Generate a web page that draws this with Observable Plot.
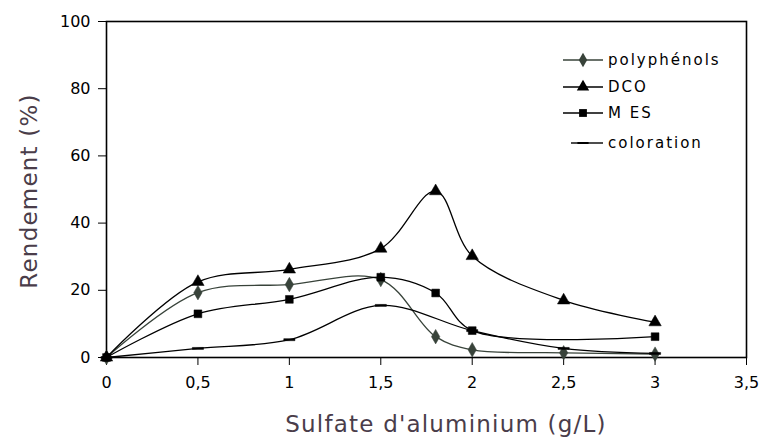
<!DOCTYPE html>
<html><head><meta charset="utf-8">
<script src="https://cdn.jsdelivr.net/npm/d3@7"></script>
<script src="https://cdn.jsdelivr.net/npm/@observablehq/plot@0.6"></script>
<style>
body{margin:0;background:#fff;}
#chart{width:760px;height:445px;}
</style>
</head><body><div id="chart"></div>
<script>
const doses = [0, 0.5, 1, 1.5, 1.8, 2, 2.5, 3];
const polyphenols = [0, 19.3, 21.7, 23.2, 6.2, 2.3, 1.4, 1.0];
const dco = [0, 22.5, 26.2, 32.4, 49.5, 30.2, 17.0, 10.5];
const mes = [0, 13.0, 17.3, 23.9, 19.2, 8.0, null, 6.2];
const coloration = [0, 2.7, 5.3, 15.5, null, 8.0, 2.7, 1.2];
const seriesNames = ["polyphénols", "DCO", "MES", "coloration"];
const legendLabels = ["polyphénols", "DCO", "M ES", "coloration"];
const xTicks = [0, 0.5, 1, 1.5, 2, 2.5, 3, 3.5];
const yTicks = [0, 20, 40, 60, 80, 100];

const dash = {draw(ctx, size){ const w = Math.sqrt(size)*0.9; ctx.moveTo(-w,-1); ctx.lineTo(w,-1); ctx.lineTo(w,1); ctx.lineTo(-w,1); ctx.closePath(); }};
const symbols = {"polyphénols": "diamond", "DCO": "triangle", "MES": "square", "coloration": dash};
const colors = {"polyphénols": "#38433a", "DCO": "#000", "MES": "#000", "coloration": "#000"};
const sizes = {"polyphénols": 4.4, "DCO": 4.6, "MES": 4.4, "coloration": 3.5};

const raw = {"polyphénols": polyphenols, "DCO": dco, "MES": mes, "coloration": coloration};
const data = [];
for (const s of seriesNames) raw[s].forEach((v, i) => { if (v != null) data.push({serie: s, x: doses[i], y: v}); });

const fmt = d => String(d).replace(".", ",");
const lineMarks = [];
const dotMarks = [];
for (const s of seriesNames) {
  const d = data.filter(r => r.serie === s);
  lineMarks.push(Plot.line(d, {x: "x", y: "y", curve: "catmull-rom", stroke: colors[s], strokeWidth: 1.3}));
  dotMarks.push(Plot.dot(d, {x: "x", y: "y", symbol: () => symbols[s], r: sizes[s], fill: colors[s], stroke: colors[s], strokeWidth: 0.5}));
}

const plot = Plot.plot({
  width: 760, height: 445,
  marginLeft: 106, marginRight: 14, marginTop: 21, marginBottom: 88,
  style: {fontFamily: "'DejaVu Sans', Verdana, sans-serif", fontSize: "16px", color: "#000", background: "#fff"},
  x: {domain: [0, 3.5], ticks: xTicks, tickFormat: fmt, tickSize: 8, tickPadding: 11, label: null},
  y: {domain: [0, 100], ticks: yTicks, tickSize: 8, tickPadding: 8, label: null},
  marks: [
    Plot.frame({stroke: "#000", strokeWidth: 1.6}),
    ...lineMarks,
    ...dotMarks
  ]
});
const root = document.getElementById("chart");
root.appendChild(plot);

const svg = d3.select(plot);
// axis titles
svg.append("text").attr("x", 446).attr("y", 432).attr("text-anchor", "middle")
  .attr("font-family", "'DejaVu Sans', Verdana, sans-serif").attr("font-size", 23).attr("letter-spacing", 1.2).attr("fill", "#4a3d4a")
  .text("Sulfate d'aluminium (g/L)");
svg.append("text").attr("transform", "translate(37,191) rotate(-90)").attr("text-anchor", "middle")
  .attr("font-family", "'DejaVu Sans', Verdana, sans-serif").attr("font-size", 23).attr("letter-spacing", 1.2).attr("fill", "#4a3d4a")
  .text("Rendement (%)");

// legend
const leg = svg.append("g").attr("transform", "translate(563,60)");
const rowY = [0, 27, 53, 83];
seriesNames.forEach((s, i) => {
  const g = leg.append("g").attr("transform", `translate(0,${rowY[i]})`);
  g.append("line").attr("x1", i === 3 ? 8 : 0).attr("x2", 40).attr("y1", 0).attr("y2", 0).attr("stroke", colors[s]).attr("stroke-width", 1.4);
  const sym = d3.symbol(typeof symbols[s] === "string" ? {diamond: d3.symbolDiamond, triangle: d3.symbolTriangle, square: d3.symbolSquare}[symbols[s]] : symbols[s], sizes[s] * sizes[s] * Math.PI);
  g.append("path").attr("d", sym()).attr("transform", "translate(20,0)").attr("fill", colors[s]);
  g.append("text").attr("x", 45).attr("y", 5).attr("text-anchor", "start")
    .attr("font-family", "'DejaVu Sans', Verdana, sans-serif").attr("font-size", 15).attr("letter-spacing", 2)
    .attr("fill", "#000").text(legendLabels[i]);
});
</script>
</body></html>
